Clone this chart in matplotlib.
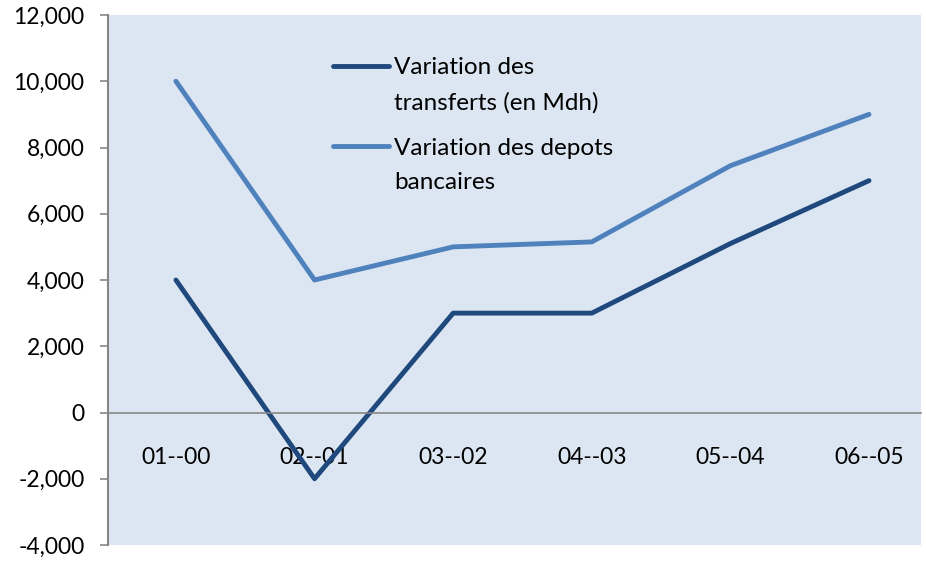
import matplotlib
matplotlib.use('Agg')
import matplotlib.pyplot as plt
from matplotlib.ticker import FuncFormatter

categories = ['01--00', '02--01', '03--02', '04--03', '05--04', '06--05']
transferts = [4000, -2000, 3000, 3000, 5100, 7000]
depots = [10000, 4000, 5000, 5150, 7450, 9000]

plt.rcParams['font.family'] = ['Lato', 'DejaVu Sans']

fig = plt.figure(figsize=(9.26, 5.63), dpi=100)
ax = fig.add_axes([108/926, 18/563, 813/926, 530/563])
ax.set_facecolor('#DCE6F2')

x = range(len(categories))
ax.plot(x, transferts, color='#1F497D', lw=3.5, solid_capstyle='round',
        label='Variation des\ntransferts (en Mdh)')
ax.plot(x, depots, color='#4F81BD', lw=3.5, solid_capstyle='round',
        label='Variation des depots\nbancaires')

# the original plot area is cut a bit short on the right
ax.set_xlim(-0.49, len(categories) - 0.625)
ax.set_ylim(-4000, 12000)
ax.set_yticks(range(-4000, 12001, 2000))
ax.yaxis.set_major_formatter(FuncFormatter(lambda v, p: f'{int(v):,}'))

for s in ['top', 'right']:
    ax.spines[s].set_visible(False)
ax.spines['left'].set_color('#868686')
ax.spines['left'].set_linewidth(1.5)
ax.spines['bottom'].set_position(('data', 0))
ax.spines['bottom'].set_color('#868686')
ax.spines['bottom'].set_linewidth(1.2)

ax.set_xticks(list(x))
ax.set_xticklabels(categories)
ax.tick_params(axis='x', length=0, pad=25, labelsize=16.5)
ax.tick_params(axis='y', length=6, width=1.2, color='#868686', labelsize=16.5, pad=11)

leg = ax.legend(loc='upper left', bbox_to_anchor=(0.277, 0.92), frameon=False,
                fontsize=17.5, handlelength=2.3, handletextpad=0.2,
                borderpad=0, borderaxespad=0, labelspacing=0.97)
for t in leg.get_texts():
    t.set_linespacing(1.8)
# put each legend line next to the first text line, like the original
for ln in leg.get_lines():
    y = ln.get_ydata()
    ln.set_ydata([v + 14 for v in y])

plt.savefig('out.png', dpi=100)
